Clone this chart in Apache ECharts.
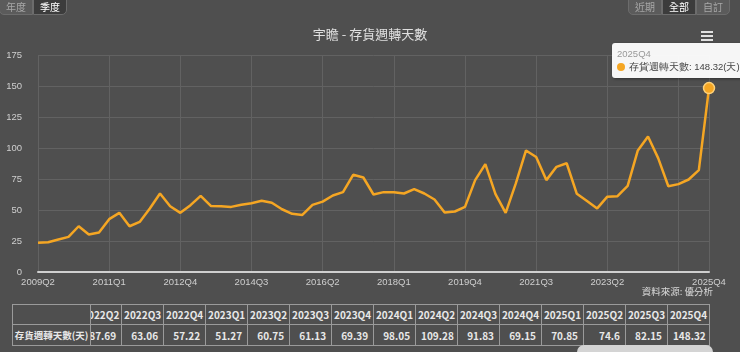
<!DOCTYPE html>
<html>
  <head>
    <meta charset="utf-8" />
    <title>宇瞻 - 存貨週轉天數</title>
    <style>
      html,
      body {
        margin: 0;
        padding: 0;
        width: 740px;
        height: 352px;
        overflow: hidden;
        background: #4f4f4f;
        font-family: "Lucida Grande", "Noto Sans CJK TC", sans-serif;
      }
      #chart-container {
        position: absolute;
        left: 0;
        top: 0;
        width: 740px;
        height: 300px;
      }
      .btns {
        position: absolute;
        top: -6px;
        display: flex;
        z-index: 5;
      }
      .btns span {
        display: block;
        padding: 5px 6px 1px;
        font-size: 10px;
        line-height: 13px;
        color: #a8a8a8;
        background: #5b5b5b;
        border: 1px solid #6c6c6c;
      }
      .btns span.on {
        color: #fff;
        background: #3c3c3c;
      }
      .btns span:first-child {
        border-bottom-left-radius: 5px;
      }
      .btns span:last-child {
        border-bottom-right-radius: 5px;
      }
      #tbl-wrap {
        position: absolute;
        left: 12px;
        top: 304px;
        display: flex;
      }
      table {
        border-collapse: collapse;
        table-layout: fixed;
        font-size: 10px;
        font-weight: bold;
        font-family: "Noto Sans CJK TC", sans-serif;
        color: #e8e8e8;
      }
      #tbl-left {
        font-size: 9.5px;
      }
      td {
        border: 1px solid #9a9a9a;
        padding: 0 5px;
        white-space: nowrap;
        overflow: hidden;
      }
      tr.head td {
        height: 19px;
        text-align: center;
        padding: 0;
      }
      tr.val td {
        height: 20px;
        text-align: right;
      }
      #scroller {
        width: 619px;
        overflow: hidden;
      }
      #thumb {
        position: absolute;
        left: 577px;
        top: 345px;
        width: 136px;
        height: 14px;
        border-radius: 7px;
        background: #d4d4d4;
      }
    </style>
    <script src="https://cdn.jsdelivr.net/npm/echarts@6/dist/echarts.min.js"></script>
  </head>
  <body>
    <div id="chart-container"></div>
    <div class="btns" style="left: -1px"><span>年度</span><span class="on">季度</span></div>
    <div class="btns" style="left: 628px"><span>近期</span><span class="on">全部</span><span>自訂</span></div>
    <div id="tbl-wrap">
      <table id="tbl-left" style="width: 79px">
        <tr class="head"><td></td></tr>
        <tr class="val"><td style="text-align: center; padding: 0">存貨週轉天數(天)</td></tr>
      </table>
      <div id="scroller"><table id="tbl-data"></table></div>
    </div>
    <div id="thumb"></div>

    <script>
      // 季度標籤 2009Q2 ~ 2025Q4
      var startYear = 2009;
      var startQ = 2;
      var quarterCount = 67;
      var categories = [];
      for (var i = 0; i < quarterCount; i++) {
        var q = startQ - 1 + i;
        categories.push(startYear + Math.floor(q / 4) + "Q" + ((q % 4) + 1));
      }

      // 存貨週轉天數 (前段由圖上估讀, 2022Q2 之後取自表格)
      var turnoverDays = [
        23.5, 24.0, 26.2, 28.3, 36.9, 30.2, 31.8, 42.6, 47.7, 36.9,
        40.4, 51.2, 63.3, 53.0, 47.7, 53.9, 61.4, 53.3, 53.0, 52.5,
        54.2, 55.5, 57.4, 55.8, 50.6, 46.9, 46.0, 54.1, 56.8, 61.7,
        64.4, 78.4, 76.2, 62.5, 64.4, 64.4, 63.3, 66.8, 63.3, 58.5,
        48.0, 48.8, 52.5, 74.1, 87.0, 62.8, 47.7, 71.4, 98.0, 92.7,
        74.1, 84.8, 87.69, 63.06, 57.22, 51.27, 60.75, 61.13, 69.39, 98.05,
        109.28, 91.83, 69.15, 70.85, 74.6, 82.15, 148.32
      ];

      var yTicks = [0, 25, 50, 75, 100, 125, 150, 175];
      var labelStep = 7;
      var seriesName = "存貨週轉天數";
      var lastIdx = turnoverDays.length - 1;

      function showLabel(index) {
        return index % labelStep === 0 || index === lastIdx;
      }

      // 下方表格
      var headRow = "<tr class='head'>";
      var valRow = "<tr class='val'>";
      for (var j = 0; j < categories.length; j++) {
        headRow += "<td>" + categories[j] + "</td>";
        valRow += "<td>" + turnoverDays[j] + "</td>";
      }
      var tblData = document.getElementById("tbl-data");
      tblData.style.width = categories.length * 42 + "px";
      tblData.innerHTML = headRow + "</tr>" + valRow + "</tr>";
      var scroller = document.getElementById("scroller");
      scroller.scrollLeft = scroller.scrollWidth;

      var myChart = echarts.init(document.getElementById("chart-container"), null, {
        renderer: "canvas",
      });

      var option = {
        backgroundColor: "transparent",
        animation: false,
        title: {
          text: "宇瞻 - 存貨週轉天數",
          left: "center",
          top: 23,
          textStyle: {
            color: "#e0e0e0",
            fontSize: 13,
            fontWeight: "normal",
            fontFamily: "Noto Sans CJK TC",
          },
        },
        grid: {
          left: 38,
          right: 31,
          top: 55,
          bottom: 28,
        },
        tooltip: {
          trigger: "axis",
          triggerOn: "none",
          alwaysShowContent: true,
          confine: false,
          axisPointer: { type: "none" },
          backgroundColor: "rgba(255,255,255,0.95)",
          borderWidth: 0,
          padding: [4, 5],
          extraCssText: "white-space:nowrap;border-radius:3px;box-shadow:1px 1px 3px rgba(0,0,0,0.4);",
          position: function () {
            return [612, 43];
          },
          formatter: function (params) {
            var p = params[0];
            return (
              "<div style='font-size:9.5px;color:#999;line-height:13px'>" +
              p.name +
              "</div>" +
              "<div style='font-size:9.5px;color:#444;line-height:14px;white-space:nowrap'>" +
              "<span style='display:inline-block;width:8px;height:8px;border-radius:4px;background:#f5a623;margin-right:4px;vertical-align:-1px'></span>" +
              seriesName + ": " + p.value + "(天)</div>"
            );
          },
        },
        xAxis: {
          type: "category",
          data: categories,
          boundaryGap: false,
          axisLine: { lineStyle: { color: "#cfcfcf", width: 2 } },
          axisTick: { show: false },
          axisLabel: {
            color: "#cfcfcf",
            fontSize: 9.5,
            margin: 5,
            hideOverlap: false,
            showMaxLabel: true,
            interval: function (index) {
              return showLabel(index);
            },
          },
          splitLine: {
            show: true,
            interval: function (index) {
              return showLabel(index);
            },
            lineStyle: { color: "#626262", width: 1 },
          },
        },
        yAxis: {
          type: "value",
          min: yTicks[0],
          max: yTicks[yTicks.length - 1],
          interval: yTicks[1] - yTicks[0],
          axisLine: { show: false },
          axisTick: { show: false },
          axisLabel: { color: "#cfcfcf", fontSize: 9.5, margin: 16 },
          splitLine: { lineStyle: { color: "#626262", width: 1 } },
        },
        graphic: [
          {
            type: "text",
            right: 27,
            top: 287,
            style: {
              text: "資料來源: 優分析",
              fill: "#d8d8d8",
              fontSize: 9.5,
              fontFamily: "Noto Sans CJK TC",
            },
          },
          {
            type: "group",
            left: 701,
            top: 31,
            children: [
              { type: "rect", shape: { x: 0, y: 0, width: 12, height: 2 }, style: { fill: "#e0e0e0" } },
              { type: "rect", shape: { x: 0, y: 4, width: 12, height: 2 }, style: { fill: "#e0e0e0" } },
              { type: "rect", shape: { x: 0, y: 8, width: 12, height: 2 }, style: { fill: "#e0e0e0" } },
            ],
          },
        ],
        series: [
          {
            name: seriesName,
            type: "line",
            data: turnoverDays,
            showSymbol: true,
            symbol: "circle",
            symbolSize: function (v, p) {
              return p.dataIndex === lastIdx ? 10 : 0;
            },
            itemStyle: { color: "#f5a623", borderColor: "#ffd27a", borderWidth: 1.5 },
            lineStyle: { color: "#f5a623", width: 2.5 },
            emphasis: { disabled: true },
          },
        ],
      };

      myChart.setOption(option);
      myChart.dispatchAction({ type: "showTip", seriesIndex: 0, dataIndex: lastIdx });
    </script>
  </body>
</html>
